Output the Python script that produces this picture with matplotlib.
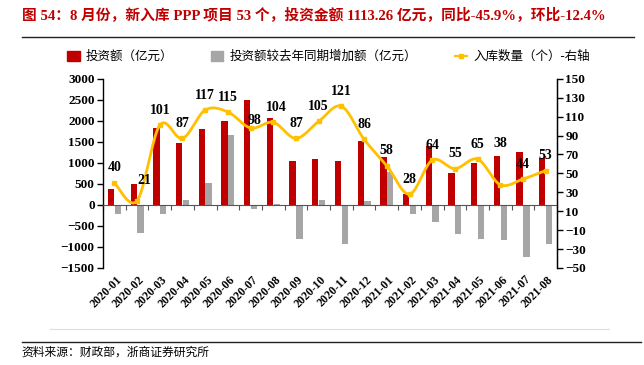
import numpy as np
import matplotlib
matplotlib.use("Agg")
import matplotlib.pyplot as plt
from matplotlib.lines import Line2D
from matplotlib.patches import Patch
import matplotlib.transforms as mtrans

plt.rcParams["font.family"] = ["Liberation Serif", "Noto Sans CJK SC"]

months = ["2020-01", "2020-02", "2020-03", "2020-04", "2020-05", "2020-06", "2020-07",
          "2020-08", "2020-09", "2020-10", "2020-11", "2020-12", "2021-01", "2021-02",
          "2021-03", "2021-04", "2021-05", "2021-06", "2021-07", "2021-08"]
invest = [370, 490, 1830, 1470, 1800, 2000, 2500, 2070, 1045, 1085, 1045, 1525,
          1140, 250, 1400, 750, 1005, 1165, 1270, 1113]
invest_yoy = [-225, -670, -225, 128, 510, 1660, -95, 32, -805, 112, -925, 104,
              782, -225, -405, -700, -805, -845, -1230, -942]
count = [40, 21, 101, 87, 117, 115, 98, 104, 87, 105, 121, 86, 58, 28, 64, 55, 65, 38, 44, 53]

RED = "#C00000"
GRAY = "#A6A6A6"
GOLD = "#FFC000"

# label offsets in points (dx, dy) where the default "above" doesn't fit
label_offsets = {1: (5, 10), 6: (3, 1), 7: (2, 6), 17: (0, 25)}


def smooth(x, y, n=20):
    # bezier smoothing like office charts
    x = np.asarray(x, float)
    y = np.asarray(y, float)
    px = np.concatenate([[x[0]], x, [x[-1]]])
    py = np.concatenate([[y[0]], y, [y[-1]]])
    xs, ys = [], []
    t = np.linspace(0, 1, n)
    for i in range(len(x) - 1):
        p0 = np.array([x[i], y[i]])
        p3 = np.array([x[i + 1], y[i + 1]])
        p1 = p0 + (np.array([px[i + 2], py[i + 2]]) - np.array([px[i], py[i]])) / 6
        p2 = p3 - (np.array([px[i + 3], py[i + 3]]) - np.array([px[i + 1], py[i + 1]])) / 6
        b = ((1 - t) ** 3)[:, None] * p0 + (3 * (1 - t) ** 2 * t)[:, None] * p1 \
            + (3 * (1 - t) * t ** 2)[:, None] * p2 + (t ** 3)[:, None] * p3
        xs.append(b[:, 0])
        ys.append(b[:, 1])
    return np.concatenate(xs), np.concatenate(ys)


fig = plt.figure(figsize=(6.44, 3.65), dpi=100)
ax = fig.add_axes([0.16, 0.266, 0.705, 0.518])
ax2 = ax.twinx()

x = np.arange(len(months))
w = 0.28
ax.bar(x - 0.15, invest, w, color=RED, zorder=2)
ax.bar(x + 0.15, invest_yoy, w, color=GRAY, zorder=2)

ax.set_xlim(-0.5, len(months) - 0.5)
ax.set_ylim(-1500, 3000)
ax.set_yticks(np.arange(-1500, 3001, 500))
ax2.set_ylim(-50, 150)
ax2.set_yticks(np.arange(-50, 151, 20))

for a in (ax, ax2):
    a.spines["top"].set_visible(False)
    a.tick_params(axis="y", direction="out", length=4, width=1, labelsize=9.5, pad=2)
    for lab in a.get_yticklabels():
        lab.set_fontweight("bold")
ax.spines["bottom"].set_position(("data", 0))
ax.spines["left"].set_linewidth(1)
ax2.spines["right"].set_linewidth(1)
ax2.spines["left"].set_visible(False)
ax2.spines["bottom"].set_visible(False)
ax.set_xticks(np.arange(-0.5, len(months), 1.0))
ax.tick_params(axis="x", direction="out", length=3.5, width=0.8, labelbottom=False, color="#555555")
ax.spines["bottom"].set_color("#555555")

tr = mtrans.blended_transform_factory(ax.transData, ax.transAxes)
for i, m in enumerate(months):
    ax.annotate(m, xy=(i, 0), xycoords=tr, xytext=(4, -7), textcoords="offset points",
                rotation=45, rotation_mode="anchor", ha="right", va="center",
                fontsize=8.5, fontweight="bold")

sx, sy = smooth(x, count)
ax2.plot(sx, sy, color=GOLD, lw=2, zorder=3)
ax2.plot(x, count, ls="none", marker="s", ms=3.5, color=GOLD, zorder=4)
for i, v in enumerate(count):
    dx, dy = label_offsets.get(i, (0, 6))
    ax2.annotate(str(v), xy=(i, v), xytext=(dx, dy), textcoords="offset points",
                 ha="center", va="bottom", fontsize=10, fontweight="bold")

handles = [Patch(color=RED), Patch(color=GRAY), Line2D([], [], color=GOLD, lw=1.5, marker="s", ms=2.5)]
labels = ["投资额（亿元）", "投资额较去年同期增加额（亿元）", "入库数量（个）-右轴"]
fig.legend(handles, labels, loc="center", bbox_to_anchor=(0.51, 1 - 57 / 365), ncol=3,
           frameon=False, fontsize=9, handlelength=1.0, handleheight=0.9,
           columnspacing=3.0, handletextpad=0.5)

fig.text(0.034, 1 - 16 / 365, "图 54：8 月份，新入库 PPP 项目 53 个，投资金额 1113.26 亿元，同比-45.9%，环比-12.4%",
         color=RED, fontsize=10.6, fontweight="bold", va="center", ha="left")
fig.add_artist(Line2D([0.034, 0.985], [1 - 37 / 365] * 2, color="#222222", lw=1))
fig.add_artist(Line2D([0.078, 0.945], [1 - 329 / 365] * 2, color="#DDDDDD", lw=0.8))
fig.add_artist(Line2D([0.034, 0.995], [1 - 342 / 365] * 2, color="#222222", lw=1))
fig.text(0.034, 1 - 353 / 365, "资料来源：财政部，浙商证券研究所", fontsize=8.5, va="center", ha="left")

fig.savefig("out.png", dpi=100)
